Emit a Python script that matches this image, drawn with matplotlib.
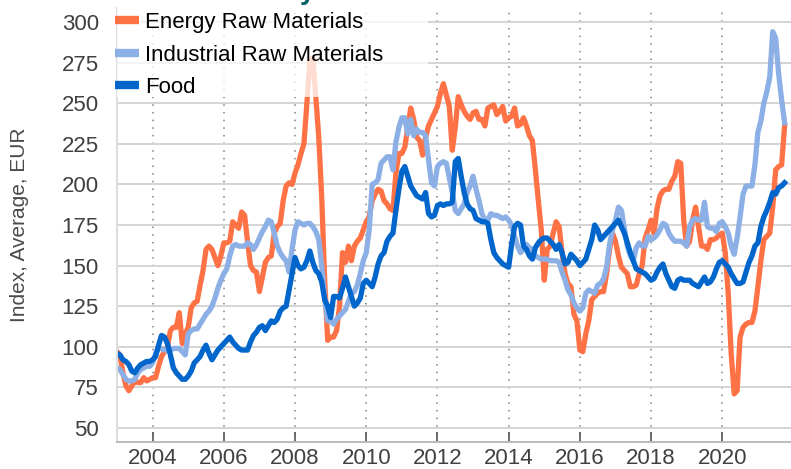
import numpy as np
import pandas as pd
import matplotlib
matplotlib.use("Agg")
import matplotlib.pyplot as plt
from matplotlib.patches import Rectangle

plt.rcParams['font.family'] = ['Liberation Sans', 'DejaVu Sans']

# monthly index values, Jan 2003 - Oct 2021
energy = [97, 95, 84, 76, 73, 76, 79, 78, 78, 81, 79, 80,
          81, 81, 88, 94, 97, 100, 110, 112, 112, 121, 102, 108,
          112, 124, 127, 128, 138, 147, 160, 162, 160, 155, 150, 156,
          164, 164, 165, 177, 175, 173, 183, 181, 165, 150, 147, 146,
          134, 143, 152, 155, 156, 170, 174, 176, 190, 199, 201, 200,
          207, 212, 219, 225, 250, 276, 278, 254, 229, 192, 141, 104,
          106, 106, 110, 125, 158, 152, 162, 153, 162, 165, 167, 172,
          177, 180, 190, 194, 197, 196, 190, 188, 185, 184, 207, 219,
          219, 223, 235, 247, 240, 229, 227, 218, 229, 236, 240, 244,
          248, 256, 262, 255, 248, 221, 235, 254, 249, 245, 242, 240,
          244, 245, 240, 240, 236, 247, 248, 249, 243, 245, 248, 239,
          241, 242, 247, 236, 237, 241, 236, 230, 227, 209, 190, 172,
          141, 160, 162, 170, 177, 174, 158, 145, 139, 137, 120, 116,
          98, 97, 108, 116, 129, 131, 133, 134, 134, 145, 160, 170,
          165, 156, 149, 147, 145, 137, 137, 138, 145, 150, 167, 172,
          178, 170, 185, 193, 196, 197, 197, 202, 205, 214, 213, 178,
          162, 165, 178, 186, 174, 162, 162, 160, 166, 166, 167, 169,
          170, 158, 133, 96, 71, 73, 106, 112, 114, 115, 115, 122,
          137, 153, 166, 168, 170, 186, 209, 211, 212, 236]

industrial = [87, 86, 83, 80, 79, 79, 80, 84, 86, 87, 88, 88,
              90, 96, 99, 99, 98, 98, 98, 99, 99, 99, 97, 95,
              108, 110, 111, 111, 114, 117, 120, 122, 125, 130, 136, 141,
              145, 148, 156, 162, 163, 162, 162, 162, 164, 163, 160, 163,
              167, 171, 174, 178, 177, 170, 162, 158, 155, 153, 146, 160,
              172, 177, 176, 175, 176, 176, 174, 171, 166, 150, 130, 116,
              116, 114, 117, 119, 121, 123, 128, 133, 134, 138, 145, 153,
              158, 172, 200, 201, 203, 213, 215, 217, 217, 209, 226, 235,
              241, 241, 231, 240, 230, 234, 232, 232, 230, 215, 201, 199,
              211, 213, 214, 213, 204, 195, 184, 182, 185, 188, 195, 199,
              205, 197, 190, 182, 178, 178, 182, 181, 181, 180, 179, 180,
              178, 175, 168, 162, 158, 160, 163, 161, 160, 156, 155, 154,
              154, 154, 153, 153, 153, 152, 146, 141, 135, 132, 127, 124,
              122, 124, 133, 135, 134, 133, 138, 139, 142, 149, 163, 172,
              178, 186, 184, 173, 162, 156, 153, 161, 164, 162, 162, 168,
              166, 167, 169, 172, 176, 175, 170, 167, 165, 165, 165, 164,
              162, 174, 178, 179, 178, 178, 189, 174, 173, 173, 171, 176,
              177, 174, 170, 162, 157, 167, 180, 194, 199, 199, 199, 212,
              232, 239, 250, 257, 266, 294, 290, 268, 252, 238]

food = [96, 95, 92, 91, 89, 85, 84, 87, 89, 90, 91, 91,
        92, 94, 101, 107, 106, 102, 95, 87, 84, 82, 80, 80,
        82, 85, 90, 92, 94, 98, 101, 96, 92, 95, 98, 100,
        102, 104, 106, 103, 101, 99, 98, 98, 98, 103, 107, 109,
        112, 113, 110, 113, 116, 115, 117, 122, 124, 125, 135, 145,
        155, 150, 148, 149, 153, 159, 152, 147, 145, 140, 129, 125,
        118, 131, 131, 130, 136, 143, 137, 131, 125, 127, 130, 139,
        141, 139, 137, 143, 151, 156, 158, 165, 168, 170, 184, 197,
        208, 211, 205, 199, 196, 193, 192, 191, 195, 182, 180, 181,
        187, 188, 187, 188, 188, 189, 214, 216, 205, 195, 188, 185,
        184, 179, 178, 177, 177, 176, 166, 158, 155, 153, 151, 150,
        149, 163, 174, 176, 175, 162, 160, 156, 154, 161, 164, 166,
        167, 167, 165, 163, 160, 163, 158, 151, 152, 157, 155, 153,
        150, 152, 154, 160, 166, 175, 172, 166, 168, 170, 172, 174,
        176, 178, 174, 170, 164, 158, 153, 148, 147, 146, 145, 143,
        141, 142, 146, 149, 151, 145, 141, 137, 136, 141, 142, 141,
        141, 141, 139, 138, 137, 140, 143, 139, 140, 143, 148, 152,
        153, 151, 149, 145, 142, 139, 139, 140, 146, 152, 156, 162,
        164, 174, 180, 184, 189, 195, 194, 198, 199, 201]

labels = ['Energy Raw Materials', 'Industrial Raw Materials', 'Food']
colors = ['#FF7246', '#8CAFE6', '#0066CC']
years = np.arange(len(energy)) / 12 + 2003

fig = plt.figure(figsize=(7.91, 4.69), dpi=100)
ax = fig.add_axes([117 / 791, 27 / 469, 674 / 791, 434 / 469])

for vals, lab, col in zip([energy, industrial, food], labels, colors):
    ax.plot(years, vals, color=col, lw=3.8, label=lab, solid_joinstyle='round')

ax.set_xlim(2003, 2021.93)
ax.set_ylim(41.4, 308.6)
ax.set_yticks(range(50, 301, 25))
ax.set_xticks(range(2004, 2021, 2))

ax.grid(axis='y', color='#d4d4d4', lw=1.4)
ax.grid(axis='x', color='#808080', lw=1.1, linestyle=(0, (1, 4)))
ax.set_axisbelow(True)

for s in ['top', 'right']:
    ax.spines[s].set_visible(False)
ax.spines['left'].set_color('#dddddd')
ax.spines['left'].set_linewidth(1.4)
ax.spines['bottom'].set_color('#bbbbbb')
ax.spines['bottom'].set_linewidth(1.4)

ax.tick_params(axis='y', length=0, pad=13, labelsize=16, labelcolor='#404040')
ax.tick_params(axis='x', direction='in', length=7, width=1.2, color='#555555',
               pad=4, labelsize=16, labelcolor='#404040')

ax.set_ylabel('Index, Average, EUR', fontsize=15, color='#4a4a4a')
ax.yaxis.set_label_coords(-88 / 674, 0.5)

# semi-transparent box behind the legend
ax.add_patch(Rectangle((0, (442 - 97) / 434), (428 - 117) / 674, 1.0,
                       transform=ax.transAxes, facecolor='white', alpha=0.76,
                       edgecolor='none', zorder=5, clip_on=False))
leg = ax.legend(loc='upper left', bbox_to_anchor=(-0.0065, 0.996), frameon=False,
                fontsize=16, handlelength=1.1, handletextpad=0.25,
                labelspacing=0.52, borderaxespad=0.0, borderpad=0.1)
leg.set_zorder(6)
for h in leg.get_lines():
    h.set_linewidth(6)
    h.set_solid_capstyle('butt')

# clipped title remnant at the very top
fig.text(300 / 791, 1 + 1 / 469, 'y', fontsize=20, fontweight='bold',
         color='#00606A', va='baseline', ha='left')

fig.savefig('out.png', dpi=100)
